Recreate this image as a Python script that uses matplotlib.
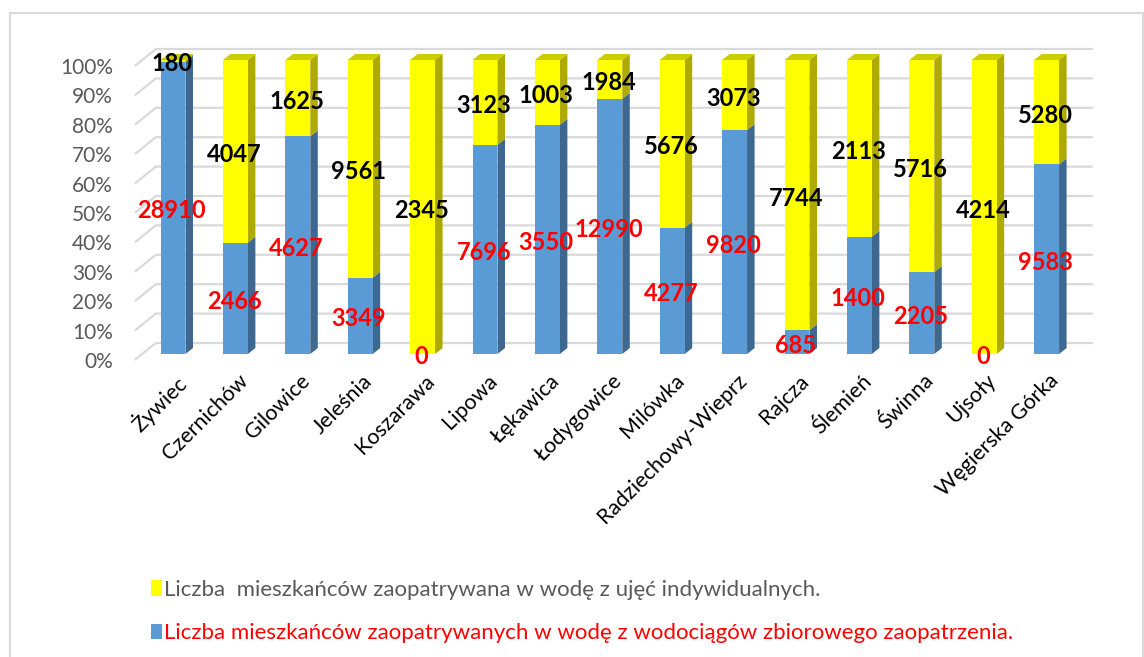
import numpy as np
import matplotlib
matplotlib.use("Agg")
import matplotlib.pyplot as plt
from matplotlib.patches import Polygon, Rectangle
from matplotlib.transforms import ScaledTranslation

plt.rcParams['font.family'] = ['Lato', 'DejaVu Sans']

categories = ["Żywiec", "Czernichów", "Gilowice", "Jeleśnia", "Koszarawa", "Lipowa",
              "Łękawica", "Łodygowice", "Milówka", "Radziechowy-Wieprz", "Rajcza",
              "Ślemień", "Świnna", "Ujsoły", "Węgierska Górka"]
wodociagi = [28910, 2466, 4627, 3349, 0, 7696, 3550, 12990, 4277, 9820, 685, 1400, 2205, 0, 9583]
indywidualne = [180, 4047, 1625, 9561, 2345, 3123, 1003, 1984, 5676, 3073, 7744, 2113, 5716, 4214, 5280]
label_ind = "Liczba  mieszkańców zaopatrywana w wodę z ujęć indywidualnych."
label_wod = "Liczba mieszkańców zaopatrywanych w wodę z wodociągów zbiorowego zaopatrzenia."
yticks = np.arange(0, 1.01, 0.1)

BLUE, BLUE_SIDE = "#5B9BD5", "#3D6891"
YEL, YEL_SIDE, YEL_TOP = "#FFFF00", "#AEAA00", "#CCCC00"
GRID = "#D9D9D9"

W, H = 1144, 657
fig = plt.figure(figsize=(W / 100, H / 100), dpi=100)
left_px, right_px, bot_px, top_px = 141.8, 1077.8, 354, 60
ax = fig.add_axes([left_px / W, (H - bot_px) / H, (right_px - left_px) / W, (bot_px - top_px) / H])
ax.set_xlim(-0.5, 14.5)
ax.set_ylim(0, 1)
for s in ax.spines.values():
    s.set_visible(False)
ux = (right_px - left_px) / 15.0
uy = (bot_px - top_px) / 1.0

b = np.array(wodociagi, float)
y = np.array(indywidualne, float)
tot = b + y
bf = b / tot
yf = y / tot
x = np.arange(len(categories))
w = 0.4
dx, dy = 7.5 / ux, 6.0 / uy

# gridlines (back wall with perspective)
for v in yticks:
    ax.plot([-0.5 - 7 / ux, -0.5 + 14 / ux, 14.5 + 15 / ux],
            [v - 6 / uy, v + 11 / uy, v + 11 / uy],
            color=GRID, lw=1.6, clip_on=False, zorder=0, solid_capstyle='butt')

bars_b = ax.bar(x, bf, width=w, color=BLUE, zorder=3, label=label_wod)
bars_y = ax.bar(x, yf, width=w, bottom=bf, color=YEL, zorder=3, label=label_ind)

for i in range(len(x)):
    xr = x[i] + w / 2
    xl = x[i] - w / 2
    segs = [(0, bf[i], BLUE_SIDE), (bf[i], 1.0, YEL_SIDE)]
    for y0, y1, c in segs:
        if y1 - y0 <= 0:
            continue
        ax.add_patch(Polygon([(xr, y0), (xr + dx, y0 + dy), (xr + dx, y1 + dy), (xr, y1)],
                             closed=True, fc=c, ec='none', zorder=2.9, clip_on=False))
    topc = YEL_TOP if yf[i] > 0 else BLUE
    ax.add_patch(Polygon([(xl, 1.0), (xl + dx, 1 + dy), (xr + dx, 1 + dy), (xr, 1.0)],
                         closed=True, fc=topc, ec='none', zorder=2.9, clip_on=False))

off = -3.0 / uy
for i in range(len(x)):
    ax.text(x[i] - 0.02, bf[i] / 2 + off, f"{wodociagi[i]}", color="red", fontsize=17,
            fontweight="bold", ha="center", va="center", zorder=5)
    ax.text(x[i] - 0.02, bf[i] + yf[i] / 2 + off, f"{indywidualne[i]}", color="black", fontsize=17,
            fontweight="bold", ha="center", va="center", zorder=5)

ax.set_yticks(yticks)
ax.set_yticklabels([f"{int(round(v * 100))}%" for v in yticks], color="#595959", fontsize=15)
ax.tick_params(axis='y', length=0, pad=(left_px - 113) * 0.72)
for lab in ax.get_yticklabels():
    lab.set_transform(lab.get_transform() + ScaledTranslation(0, -6 / 100, fig.dpi_scale_trans))

ax.set_xticks(x)
ax.set_xticklabels(categories, rotation=45, ha='right', rotation_mode='anchor', fontsize=15.5, color="black")
ax.tick_params(axis='x', length=0, pad=12)
for lab in ax.get_xticklabels():
    lab.set_transform(lab.get_transform() + ScaledTranslation(2 / 100, 0, fig.dpi_scale_trans))

leg = fig.legend(handles=[bars_y, bars_b], labels=[label_ind, label_wod],
                 loc='upper left', bbox_to_anchor=(151 / W, 1 - 580 / H),
                 frameon=False, fontsize=16, handlelength=0.5, handleheight=0.7,
                 handletextpad=0.1, labelspacing=1.05, borderpad=0, borderaxespad=0,
                 labelcolor=["#595959", "red"])

fig.patches.append(Rectangle((10 / W, -0.01), (1143 - 10) / W, (H - 13) / H + 0.01,
                             transform=fig.transFigure, fill=False, ec=GRID, lw=1.5))

fig.savefig("out.png", dpi=100, facecolor="white")
